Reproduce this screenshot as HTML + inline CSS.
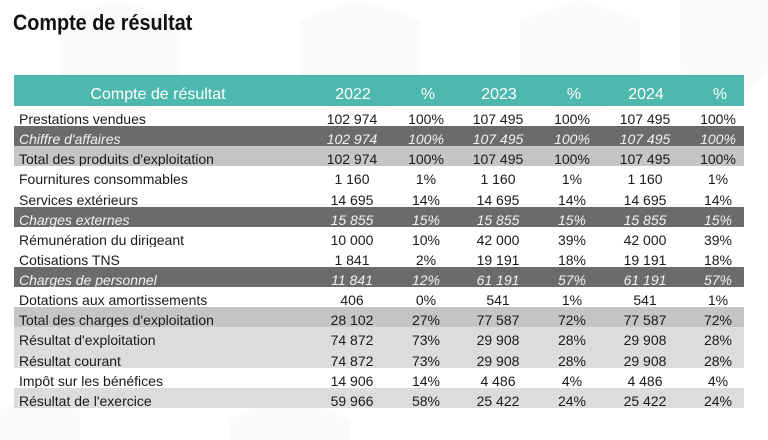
<!DOCTYPE html>
<html>
<head>
<meta charset="utf-8">
<style>
  html,body{margin:0;padding:0;}
  body{width:768px;height:440px;overflow:hidden;background:#ffffff;position:relative;font-family:"Liberation Sans","DejaVu Sans",sans-serif;}
  .bg{position:absolute;left:0;top:0;overflow:hidden;}
  .title{position:absolute;left:13px;top:12px;font-size:22px;line-height:22px;font-weight:bold;color:#111;white-space:nowrap;transform:scale(0.9,1);transform-origin:0 0;}
  .hdr{position:absolute;left:14px;top:75px;width:730px;height:31px;background:#4db8ad;color:#ffffff;font-size:16px;overflow:hidden;}
  .hdr span{position:absolute;top:4px;line-height:31px;white-space:nowrap;text-align:center;}
  .row{position:absolute;left:14px;width:730px;font-size:14px;color:#1a1a1a;overflow:hidden;}
  .row span{position:absolute;top:3px;line-height:20px;white-space:nowrap;}
  .row span.l{left:5px;}
  .row span.c{width:80px;text-align:center;}
  .dk{background:#6b6b6b;color:#f2f2f2;font-style:italic;}
  .g1{background:#c5c5c5;}
  .g2{background:#dcdcdc;}
</style>
</head>
<body>
<svg class="bg" width="768" height="440" viewBox="0 0 768 440">
  <g fill="#fafafa">
    <polygon points="60,20 120,0 180,20 180,90 120,120 60,90"/>
    <polygon points="300,20 360,0 420,20 420,90 360,120 300,90"/>
    <polygon points="520,20 580,0 640,20 640,90 580,120 520,90"/>
    <polygon points="680,0 740,0 768,0 768,70 740,100 680,70"/>
    <polygon points="230,420 290,390 350,420 350,440 230,440"/>
    <polygon points="0,410 40,390 80,410 80,440 0,440"/>
  </g>
</svg>

<div class="title">Compte de résultat</div>

<div class="hdr">
  <span style="left:64px;width:160px;">Compte de résultat</span>
  <span style="left:299px;width:80px;">2022</span>
  <span style="left:374px;width:80px;">%</span>
  <span style="left:445px;width:80px;">2023</span>
  <span style="left:520px;width:80px;">%</span>
  <span style="left:592px;width:80px;">2024</span>
  <span style="left:666px;width:80px;">%</span>
</div>

<div class="row" style="top:106px;height:20px;">
  <span class="l">Prestations vendues</span>
  <span class="c" style="left:298px">102 974</span><span class="c" style="left:372px">100%</span>
  <span class="c" style="left:444px">107 495</span><span class="c" style="left:518px">100%</span>
  <span class="c" style="left:591px">107 495</span><span class="c" style="left:664px">100%</span>
</div>
<div class="row dk" style="top:126px;height:20px;">
  <span class="l">Chiffre d'affaires</span>
  <span class="c" style="left:298px">102 974</span><span class="c" style="left:372px">100%</span>
  <span class="c" style="left:444px">107 495</span><span class="c" style="left:518px">100%</span>
  <span class="c" style="left:591px">107 495</span><span class="c" style="left:664px">100%</span>
</div>
<div class="row g1" style="top:146px;height:20px;">
  <span class="l">Total des produits d'exploitation</span>
  <span class="c" style="left:298px">102 974</span><span class="c" style="left:372px">100%</span>
  <span class="c" style="left:444px">107 495</span><span class="c" style="left:518px">100%</span>
  <span class="c" style="left:591px">107 495</span><span class="c" style="left:664px">100%</span>
</div>
<div class="row" style="top:166px;height:21px;">
  <span class="l">Fournitures consommables</span>
  <span class="c" style="left:298px">1 160</span><span class="c" style="left:372px">1%</span>
  <span class="c" style="left:444px">1 160</span><span class="c" style="left:518px">1%</span>
  <span class="c" style="left:591px">1 160</span><span class="c" style="left:664px">1%</span>
</div>
<div class="row" style="top:187px;height:20px;">
  <span class="l">Services extérieurs</span>
  <span class="c" style="left:298px">14 695</span><span class="c" style="left:372px">14%</span>
  <span class="c" style="left:444px">14 695</span><span class="c" style="left:518px">14%</span>
  <span class="c" style="left:591px">14 695</span><span class="c" style="left:664px">14%</span>
</div>
<div class="row dk" style="top:207px;height:20px;">
  <span class="l">Charges externes</span>
  <span class="c" style="left:298px">15 855</span><span class="c" style="left:372px">15%</span>
  <span class="c" style="left:444px">15 855</span><span class="c" style="left:518px">15%</span>
  <span class="c" style="left:591px">15 855</span><span class="c" style="left:664px">15%</span>
</div>
<div class="row" style="top:227px;height:20px;">
  <span class="l">Rémunération du dirigeant</span>
  <span class="c" style="left:298px">10 000</span><span class="c" style="left:372px">10%</span>
  <span class="c" style="left:444px">42 000</span><span class="c" style="left:518px">39%</span>
  <span class="c" style="left:591px">42 000</span><span class="c" style="left:664px">39%</span>
</div>
<div class="row" style="top:247px;height:20px;">
  <span class="l">Cotisations TNS</span>
  <span class="c" style="left:298px">1 841</span><span class="c" style="left:372px">2%</span>
  <span class="c" style="left:444px">19 191</span><span class="c" style="left:518px">18%</span>
  <span class="c" style="left:591px">19 191</span><span class="c" style="left:664px">18%</span>
</div>
<div class="row dk" style="top:267px;height:20px;">
  <span class="l">Charges de personnel</span>
  <span class="c" style="left:298px">11 841</span><span class="c" style="left:372px">12%</span>
  <span class="c" style="left:444px">61 191</span><span class="c" style="left:518px">57%</span>
  <span class="c" style="left:591px">61 191</span><span class="c" style="left:664px">57%</span>
</div>
<div class="row" style="top:287px;height:20px;">
  <span class="l">Dotations aux amortissements</span>
  <span class="c" style="left:298px">406</span><span class="c" style="left:372px">0%</span>
  <span class="c" style="left:444px">541</span><span class="c" style="left:518px">1%</span>
  <span class="c" style="left:591px">541</span><span class="c" style="left:664px">1%</span>
</div>
<div class="row g1" style="top:307px;height:20px;">
  <span class="l">Total des charges d'exploitation</span>
  <span class="c" style="left:298px">28 102</span><span class="c" style="left:372px">27%</span>
  <span class="c" style="left:444px">77 587</span><span class="c" style="left:518px">72%</span>
  <span class="c" style="left:591px">77 587</span><span class="c" style="left:664px">72%</span>
</div>
<div class="row g2" style="top:327px;height:21px;">
  <span class="l">Résultat d'exploitation</span>
  <span class="c" style="left:298px">74 872</span><span class="c" style="left:372px">73%</span>
  <span class="c" style="left:444px">29 908</span><span class="c" style="left:518px">28%</span>
  <span class="c" style="left:591px">29 908</span><span class="c" style="left:664px">28%</span>
</div>
<div class="row g2" style="top:348px;height:20px;">
  <span class="l">Résultat courant</span>
  <span class="c" style="left:298px">74 872</span><span class="c" style="left:372px">73%</span>
  <span class="c" style="left:444px">29 908</span><span class="c" style="left:518px">28%</span>
  <span class="c" style="left:591px">29 908</span><span class="c" style="left:664px">28%</span>
</div>
<div class="row" style="top:368px;height:20px;">
  <span class="l">Impôt sur les bénéfices</span>
  <span class="c" style="left:298px">14 906</span><span class="c" style="left:372px">14%</span>
  <span class="c" style="left:444px">4 486</span><span class="c" style="left:518px">4%</span>
  <span class="c" style="left:591px">4 486</span><span class="c" style="left:664px">4%</span>
</div>
<div class="row g2" style="top:388px;height:20px;">
  <span class="l">Résultat de l'exercice</span>
  <span class="c" style="left:298px">59 966</span><span class="c" style="left:372px">58%</span>
  <span class="c" style="left:444px">25 422</span><span class="c" style="left:518px">24%</span>
  <span class="c" style="left:591px">25 422</span><span class="c" style="left:664px">24%</span>
</div>
</body>
</html>
